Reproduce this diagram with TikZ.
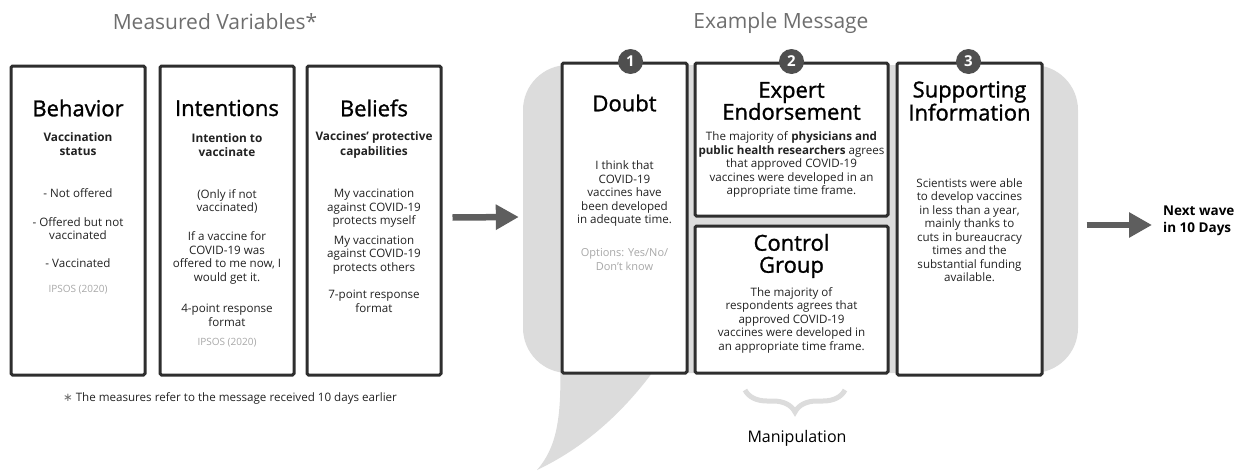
\documentclass[tikz,border=0pt]{standalone}
\usepackage{fontspec}
\setmainfont{Open Sans}
\newfontfamily\symfont{DejaVu Sans}
\usetikzlibrary{arrows.meta,decorations.pathreplacing}
\definecolor{boxline}{HTML}{2E2E2E}
\definecolor{bubblegray}{HTML}{DCDCDC}
\definecolor{bodytext}{HTML}{222222}
\definecolor{lightnote}{HTML}{A8A8A8}
\definecolor{titlegray}{HTML}{6E6E6E}
\definecolor{dotgray}{HTML}{4F4F4F}
\definecolor{arrowgray}{HTML}{5E5E5E}
\tikzset{
  box/.style={draw=boxline, line width=3pt, fill=white, rounded corners=1.5pt, inner sep=0pt},
  head/.style={font=\fontsize{22}{22}\selectfont\addfontfeatures{FakeBold=1.2}, align=center},
  sub/.style={font=\bfseries\fontsize{11.8}{14.5}\selectfont, text=bodytext, align=center},
  body/.style={font=\fontsize{11.6}{13.5}\selectfont, text=bodytext, align=center},
  note/.style={font=\fontsize{10}{13}\selectfont, text=lightnote, align=center},
  title/.style={font=\fontsize{21}{24}\selectfont, text=titlegray},
  numdot/.style={circle, fill=dotgray, text=white, font=\bfseries\fontsize{15}{15}\selectfont, minimum size=25pt, inner sep=0pt},
  bigarrow/.style={draw=arrowgray, line width=6.5pt, -{Triangle[width=24pt,length=23pt]}},
}
\begin{document}
\begin{tikzpicture}[x=1pt,y=-1pt]
\useasboundingbox (0,0) rectangle (1240,471);
% measured variables
\node[title] (mvtitle) at (215,22) {Measured Variables*};
\node[box, minimum width=134, minimum height=309] (behavior) at (78,220.5) {};
\node[box, minimum width=134, minimum height=309] (intentions) at (227,220.5) {};
\node[box, minimum width=134, minimum height=309] (beliefs) at (374,220.5) {};
\node[head] (behT) at (78,108) {Behavior};
\node[sub] (behS) at (78,144) {Vaccination\\status};
\node[body] (beh1) at (78,193) {- Not offered};
\node[body] (beh2) at (78,228.5) {- Offered but not\\vaccinated};
\node[body] (beh3) at (78,263) {- Vaccinated};
\node[note] (behN) at (78,290) {IPSOS (2020)};
\node[head] (intT) at (227,108) {Intentions};
\node[sub] (intS) at (227,145) {Intention to\\vaccinate};
\node[body] (int1) at (227,201.5) {(Only if not\\vaccinated)};
\node[body] (int2) at (227,258) {If a vaccine for\\COVID-19 was\\offered to me now, I\\would get it.};
\node[body] (int3) at (227,315.5) {4-point response\\format};
\node[note] (intN) at (227,343) {IPSOS (2020)};
\node[head] (belT) at (374,108) {Beliefs};
\node[sub] (belS) at (374,145) {Vaccines' protective\\capabilities};
\node[body] (bel1) at (374,208.5) {My vaccination\\against COVID-19\\protects myself};
\node[body] (bel2) at (374,255) {My vaccination\\against COVID-19\\protects others};
\node[body] (bel3) at (374,301.5) {7-point response\\format};
\node[body] (foot) at (230,398) {{\symfont\color{titlegray}∗} The measures refer to the message received 10 days earlier};
% example message
\node[title] (emtitle) at (781,23) {Example Message};
\node[fill=bubblegray, rounded corners=45pt, minimum width=555, minimum height=308, inner sep=0pt] (msg) at (800.5,219) {};
\fill[bubblegray] (560,360) .. controls (562,420) and (556,448) .. (537,470) .. controls (590,445) and (630,405) .. (660,362) -- cycle;
\node[box, minimum width=125, minimum height=310] (doubt) at (624.5,218) {};
\node[box, minimum width=193, minimum height=153] (expert) at (791.5,139.5) {};
\node[box, minimum width=193, minimum height=147] (control) at (791.5,299.5) {};
\node[box, minimum width=145, minimum height=312] (support) at (969.5,219) {};
\node[numdot] (n1) at ([xshift=6]doubt.north) {1};
\node[numdot] (n2) at (expert.north) {2};
\node[numdot] (n3) at ([xshift=-1]support.north) {3};
\node[head] (douT) at (624.5,103) {Doubt};
\node[body] (dou1) at (624.5,193.5) {I think that\\COVID-19\\vaccines have\\been developed\\in adequate time.};
\node[note, font=\fontsize{11}{13.5}\selectfont] (douN) at (624.5,259.5) {Options: Yes/No/\\Don't know};
\node[head] (expT) at (791.5,101) {Expert\\Endorsement};
\node[body] (exp1) at (791.5,164.5) {The majority of \textbf{physicians and}\\\textbf{public health researchers} agrees\\that approved COVID-19\\vaccines were developed in an\\appropriate time frame.};
\node[head] (conT) at (791.5,256) {Control\\Group};
\node[body] (con1) at (791.5,320) {The majority of\\respondents agrees that\\approved COVID-19\\vaccines were developed in\\an appropriate time frame.};
\node[head] (supT) at (969.5,101) {Supporting\\Information};
\node[body] (sup1) at (969.5,230) {Scientists were able\\to develop vaccines\\in less than a year,\\mainly thanks to\\cuts in bureaucracy\\times and the\\substantial funding\\available.};
\draw[bubblegray, line width=5pt, decorate, decoration={brace, mirror, amplitude=22pt}] (745,390) -- (845,390);
\node[font=\fontsize{16}{18}\selectfont] (manip) at (797,438) {Manipulation};
\node[font=\bfseries\fontsize{13.5}{17}\selectfont, anchor=west, align=left, inner sep=0pt] (next) at (1163,221) {Next wave\\in 10 Days};
% arrows
\draw[bigarrow] ([shift={(10,-3)}]beliefs.east) -- ([shift={(-4,-2)}]msg.west);
\draw[bigarrow] ([shift={(43,6)}]support.east) -- ([shift={(-11,4)}]next.west);
\end{tikzpicture}
\end{document}
